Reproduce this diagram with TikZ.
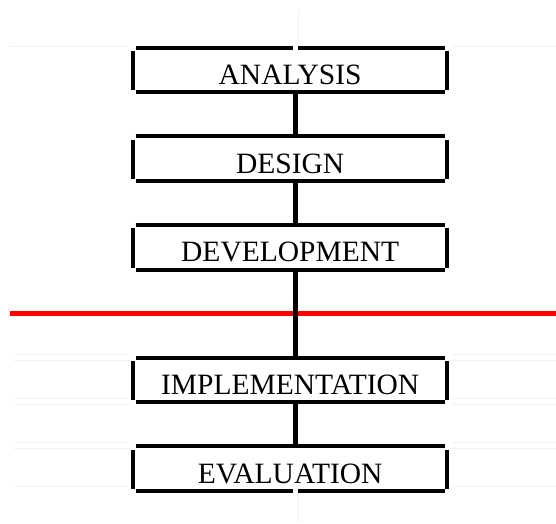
\documentclass[tikz,border=0pt]{standalone}
\usepackage{fontspec}
\setmainfont{Liberation Serif}
\usetikzlibrary{positioning}

\begin{document}
\begin{tikzpicture}[
    x=1pt, y=-1pt, % pixel-like units, y grows downwards
    stage/.style={minimum width=308.3pt, minimum height=44.3pt, inner sep=0pt,
        text height=28.9pt, text depth=0pt, font=\fontsize{29.5}{30}\selectfont}, % phase box
    rim/.style={line width=4pt}, % top and bottom edges
    side/.style={line width=4pt}, % side bars
    link/.style={line width=5pt}, % connectors between phases
    cutline/.style={red, line width=5pt}, % red separator
    faint/.style={black!6, line width=0.8pt}, % light guide lines
    node distance=44pt
]

    \useasboundingbox (0,0) rectangle (556,523);

    % Light guide lines
    \foreach \y in {46}
        \draw[faint] (10,\y) -- (130,\y) (452,\y) -- (556,\y);
    \foreach \y in {354.3, 360, 398.7, 404, 442.3, 448, 486}
        \draw[faint] (14,\y) -- (130,\y) (452,\y) -- (556,\y);
    \draw[faint] (298,10) -- (298,45);
    \draw[faint] (298,492) -- (298,523);

    % Phases
    \node[stage] (analysis) at (290.15,69.85) {ANALYSIS};
    \node[stage, below=of analysis] (design) {DESIGN};
    \node[stage, below=of design] (development) {DEVELOPMENT};
    \node[stage, below=88pt of development] (implementation) {IMPLEMENTATION};
    \node[stage, below=of implementation] (evaluation) {EVALUATION};

    % Box edges
    \foreach \s in {analysis, design, development, implementation, evaluation} {
        \draw[rim] (\s.north west) -- (\s.north east);
        \draw[rim] (\s.south west) -- (\s.south east);
        \draw[side] ([shift={(-3,3.3)}]\s.north west) -- ([shift={(-3,-2)}]\s.south west);
        \draw[side] ([shift={(2,3.3)}]\s.north east) -- ([shift={(2,-2)}]\s.south east);
    }

    % Breaks in the outer edges
    \draw[white, line width=5pt] (295.2,44) -- (295.2,51);
    \draw[white, line width=5pt] (295.2,485.5) -- (295.2,493);

    % Separator
    \coordinate (cutL) at (10,313.3);
    \coordinate (cutR) at (556,313.3);
    \draw[cutline] (cutL) -- (cutR);

    % Connectors
    \coordinate (spine) at (295,0);
    \draw[link] (analysis.south -| spine) -- (design.north -| spine);
    \draw[link] (design.south -| spine) -- (development.north -| spine);
    \draw[link] (development.south -| spine) -- (implementation.north -| spine);
    \draw[link] (implementation.south -| spine) -- (evaluation.north -| spine);

\end{tikzpicture}
\end{document}
